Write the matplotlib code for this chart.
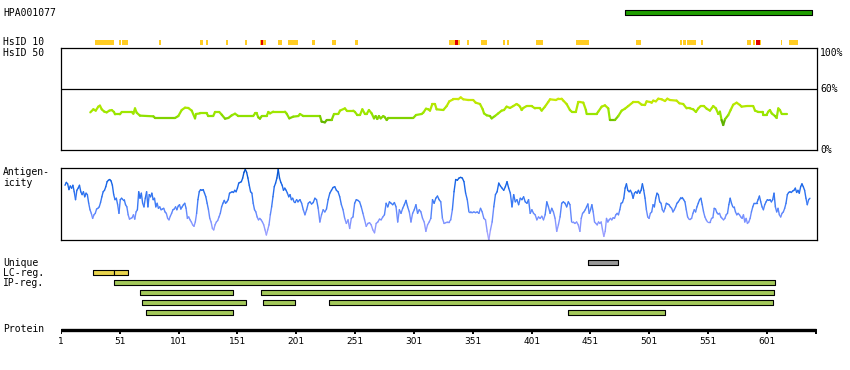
import numpy as np
import matplotlib
matplotlib.use("Agg")
import matplotlib.pyplot as plt
from matplotlib.collections import LineCollection
from matplotlib.colors import LinearSegmentedColormap, Normalize

# ---- data (residue positions / values) ----
protein_len = 643
antibody_name = "HPA001077"
antibody_span = (480, 639)

hsid10_yellow = [(30, 46), (50, 52), (53, 58), (84, 86), (119, 122), (124, 126), (141, 143),
                 (157, 159), (170, 175), (185, 189), (194, 202), (214, 217), (231, 235),
                 (251, 253), (331, 340), (346, 348), (358, 363), (377, 378), (380, 382),
                 (405, 411), (439, 450), (490, 494), (527, 529), (530, 532), (533, 541),
                 (545, 547), (584, 587), (589, 591), (594, 596), (613, 614), (620, 627)]
hsid10_red = [(171, 173), (336, 338), (591.5, 595)]

hsid50_res = [25.9, 28.5, 30.5, 32.7, 34.1, 35.6, 37.8, 39.8, 42.1, 44.1, 46.0, 46.9, 51.1, 52.6,
              61.1, 62.5, 63.9, 65.3, 68.1, 79.5, 80.9, 97.9, 100.7, 103.6, 106.4, 109.2, 112.1,
              114.9, 115.7, 119.1, 124.8, 126.2, 130.4, 131.9, 135.5, 137.6, 140.4, 143.2, 146.1,
              148.9, 151.7, 164.4, 165.9, 167.3, 168.7, 170.1, 171.6, 175.8, 177.2, 178.6, 181.4,
              191.4, 192.8, 195.0, 198.4, 202.7, 204.1,
              206.9, 221.1, 222.5, 225.3, 226.8, 231.0, 233.0, 236.7, 238.1, 242.3, 243.8, 249.4,
              250.8, 252.8, 255.1, 257.1, 259.3, 260.8, 262.7, 265.0, 267.0, 268.4, 269.8, 271.2,
              272.7, 274.9, 276.3, 277.8, 279.2, 300.4, 302.7, 307.5, 308.9, 311.2, 313.2, 314.6,
              316.6, 318.8, 320.2, 325.9, 328.8, 331.0, 334.4, 338.6, 340.7, 342.9, 347.1, 351.4,
              353.4, 357.1, 359.4, 360.5, 362.8, 365.6, 367.0, 369.8, 372.6, 375.5, 377.5, 379.7,
              382.6, 385.4, 388.2, 389.6, 391.1, 392.5, 393.9, 396.7, 401.0, 403.8, 408.1, 409.5,
              412.3, 415.1, 416.6, 421.7, 423.6, 426.5, 427.9, 430.7, 433.5, 435.0, 438.6, 440.6,
              442.0, 444.9, 447.1, 447.7, 456.2, 457.6, 460.5, 463.3, 466.1, 467.5, 471.8, 474.6,
              477.5, 480.3, 483.1, 487.4, 491.6, 494.5, 497.3, 498.7, 501.5, 503.0, 504.3, 506.6,
              508.6, 511.5, 514.3, 516.3, 518.5, 524.2, 526.5, 529.8, 532.7, 535.5, 538.3, 540.6,
              542.6, 544.6, 547.4, 549.7, 552.5, 555.3, 557.6, 559.6, 561.0, 562.4, 563.8, 565.3,
              568.1, 570.1, 572.3, 575.2, 578.0, 579.4, 583.7, 589.3, 590.8, 593.6, 597.3, 597.8,
              600.7, 602.1, 603.5, 605.0, 607.8, 609.2, 610.6, 612.0, 613.5, 617.7]
hsid50_pct = [36.9, 39.9, 38.6, 42.5, 43.5, 39.9, 37.6, 36.9, 38.6, 39.2, 37.3, 35.0, 35.0, 37.3,
              37.3, 35.6, 40.8, 36.6, 33.7, 33.0, 31.4, 31.4, 33.3, 39.2, 41.5, 41.2, 38.6,
              31.0, 35.3, 35.9, 35.9, 33.3, 33.3, 37.3, 37.3, 34.6, 30.7, 31.4, 34.0,
              35.6, 33.3, 33.3, 35.9, 35.9, 32.0, 30.7, 33.3, 33.3, 37.3, 35.9, 37.6,
              37.6, 35.6, 31.0, 32.7, 33.3, 35.3,
              33.3, 33.3, 27.8, 27.1, 29.4, 29.4, 35.3, 35.3, 38.6, 40.8, 38.6, 38.6,
              37.3, 34.3, 34.3, 39.9, 35.3, 35.3, 39.2, 35.9, 31.0, 33.3, 30.4, 33.3,
              31.0, 33.3, 32.0, 29.4, 31.4, 31.4, 34.3, 35.3, 36.6, 40.5, 39.9, 38.6,
              45.1, 45.1, 39.9, 39.2, 43.1, 47.7, 49.7, 49.7, 51.6, 49.7, 49.0, 49.0,
              46.4, 45.1, 39.9, 35.9, 34.0, 33.3, 31.0, 33.3, 35.9, 38.6, 39.2, 42.5,
              41.2, 43.1, 45.1, 44.1, 42.5, 39.2, 41.2, 43.1, 43.1, 40.8, 40.8, 38.6,
              42.5, 47.1, 49.7, 49.0, 50.3, 50.3, 48.4, 45.1, 39.2, 37.6, 37.6, 47.1,
              47.1, 46.4, 39.2, 35.3, 35.3, 37.6, 42.5, 43.8, 40.8, 29.4, 29.4, 33.3,
              38.6, 40.5, 43.1, 47.1, 47.1, 44.4, 44.1, 47.7, 47.1, 46.4, 48.4, 47.7,
              50.3, 49.7, 48.0, 50.3, 49.0, 48.4, 45.8, 45.1, 40.8, 40.8, 39.9, 37.3,
              40.8, 43.1, 43.1, 40.5, 38.6, 43.1, 40.8, 35.3, 37.6, 29.4, 24.5, 30.1,
              34.3, 39.2, 44.4, 46.4, 44.1, 42.5, 43.1, 43.1, 38.6, 37.3, 37.3, 34.6,
              34.6, 37.6, 39.2, 35.9, 33.3, 31.4, 40.8, 39.2, 35.3, 35.3]

# antigenicity score (0-100 scale), three stretches read at roughly even steps
ag_seg1_span = (4.4, 203.5)
ag_seg1 = [76, 80, 78, 70, 75, 72, 76, 67, 56, 69, 72, 76, 67, 63, 67, 60, 65, 63, 51, 42, 37, 30, 35,
           37, 43, 44, 46, 52, 60, 67, 69, 74, 81, 83, 84, 82, 76, 63, 56, 58, 49, 37, 56, 58, 56, 56,
           49, 46, 35, 29, 30, 31, 35, 29, 39, 42, 67, 58, 65, 51, 46, 58, 67, 46, 63, 60, 65, 56, 58,
           46, 51, 44, 46, 42, 43, 44, 39, 37, 30, 28, 33, 37, 42, 43, 46, 42, 47, 49, 43, 46, 49, 51,
           44, 30, 32, 28, 25, 21, 19, 25, 37, 56, 67, 70, 69, 70, 65, 60, 51, 42, 30, 25, 16, 14, 21,
           25, 27, 32, 37, 46, 51, 55, 51, 53, 56, 65, 66, 67, 66, 69, 67, 72, 79, 80, 81, 86, 94, 98,
           94, 86, 76, 67, 65, 51, 42, 39, 32, 28, 30, 28, 25, 21, 14, 7, 14, 21, 35, 46, 60, 74, 79,
           86, 98, 86, 80, 76, 69, 72, 69, 65, 60, 63, 56, 58, 53, 53, 56, 53, 55]
ag_seg2_span = (204.1, 440.6)
ag_seg2 = [56, 51, 42, 35, 42, 51, 53, 50, 52, 58, 56, 44, 25, 35, 42, 39, 43, 56, 65, 69, 73, 74, 69,
           67, 60, 49, 42, 30, 23, 28, 16, 30, 32, 51, 56, 55, 53, 46, 37, 28, 19, 23, 24, 21, 14, 10,
           23, 25, 29, 28, 32, 35, 51, 46, 53, 51, 49, 52, 46, 25, 42, 37, 44, 49, 55, 46, 39, 25, 37,
           42, 49, 37, 42, 39, 30, 25, 12, 21, 25, 30, 56, 51, 58, 61, 56, 53, 30, 23, 24, 25, 25, 28,
           42, 67, 84, 83, 86, 87, 86, 81, 65, 56, 39, 39, 38, 39, 38, 39, 37, 44, 39, 30, 28, 12, 0,
           14, 25, 46, 63, 67, 79, 75, 72, 69, 74, 81, 72, 65, 46, 63, 53, 56, 49, 58, 56, 60, 53, 51,
           56, 37, 42, 37, 35, 28, 32, 30, 33, 28, 35, 53, 46, 37, 44, 39, 30, 12, 21, 32, 51, 53, 51,
           46, 53, 49, 25, 25, 23, 25, 21]
ag_seg3_span = (442.0, 637.5)
ag_seg3 = [12, 30, 37, 39, 42, 46, 50, 37, 42, 49, 39, 25, 23, 21, 25, 23, 25, 14, 5, 12, 30, 25, 28,
           30, 28, 31, 30, 35, 37, 35, 42, 51, 52, 58, 72, 78, 69, 67, 69, 65, 58, 65, 67, 65, 69, 65,
           69, 78, 69, 58, 42, 32, 30, 37, 39, 49, 46, 58, 65, 63, 53, 51, 42, 39, 44, 51, 50, 49, 46,
           44, 39, 42, 46, 51, 53, 56, 59, 59, 56, 53, 42, 32, 29, 29, 30, 37, 42, 39, 46, 51, 56, 58,
           49, 39, 32, 28, 25, 25, 25, 30, 31, 44, 43, 38, 36, 37, 32, 30, 28, 30, 35, 37, 49, 58, 51,
           46, 46, 39, 35, 37, 35, 32, 30, 35, 25, 30, 23, 25, 30, 39, 46, 51, 51, 51, 56, 61, 53, 46,
           42, 49, 53, 56, 55, 56, 53, 56, 65, 46, 39, 44, 35, 32, 37, 39, 44, 51, 63, 66, 67, 66, 68,
           69, 72, 66, 69, 65, 74, 78, 74, 69, 58, 49, 56, 58]

unique_regions = [(449, 474)]
lc_regions = [(28, 46), (46, 58)]
ip_rows = [[(46, 608)],
           [(68, 147), (171, 607)],
           [(70, 158), (173, 200), (229, 606)],
           [(73, 147), (432, 514)]]

protein_ticks = [1, 51, 101, 151, 201, 251, 301, 351, 401, 451, 501, 551, 601]

# ---- figure ----
W, H = 850, 370
fig = plt.figure(figsize=(W / 100, H / 100), dpi=100)
mono = "DejaVu Sans Mono"
x0, x1 = 61, 817
xlim = (1, protein_len + 0.5)


def box(top, bottom):
    return [x0 / W, (H - bottom) / H, (x1 - x0) / W, (bottom - top) / H]


def coloured_line(ax, x, y, cmap, norm, lw):
    pts = np.column_stack([x, y]).astype(float)
    segs = np.stack([pts[:-1], pts[1:]], axis=1)
    lc = LineCollection(segs, cmap=cmap, norm=norm, linewidths=lw, capstyle="round")
    lc.set_array((pts[:-1, 1] + pts[1:, 1]) / 2)
    ax.add_collection(lc)


# track axes: whole height, y in pixel rows
tr = fig.add_axes([x0 / W, 0, (x1 - x0) / W, 1])
tr.set_xlim(*xlim)
tr.set_ylim(H, 0)
tr.axis("off")


def bars(spans, yc, h, color, edge=True):
    tr.broken_barh([(a, b - a) for a, b in spans], (yc - h / 2, h), facecolors=color,
                   edgecolors="black" if edge else "none", linewidth=0.8 if edge else 0)


bars([antibody_span], 12.3, 4.6, "#1f9e00")
bars(hsid10_yellow, 42.5, 5, "#ffcc22", edge=False)
bars(hsid10_red, 42.5, 5, "#e00000", edge=False)
bars(unique_regions, 262.5, 4.4, "#999999")
bars(lc_regions, 272.5, 4.4, "#e8d44d")
for i, row in enumerate(ip_rows):
    bars(row, 282.5 + 10 * i, 4.4, "#a3c85a")

# protein axis
tr.plot([1, protein_len], [329.6, 329.6], color="black", lw=2.4, solid_capstyle="butt")
for t in protein_ticks + [protein_len]:
    tr.plot([t, t], [329, 334], color="black", lw=1.4, solid_capstyle="butt")
for t in protein_ticks:
    tr.text(t, 341.5, str(t), ha="center", va="center", fontsize=6.5)

# HsID 50 panel
ah = fig.add_axes(box(48, 150))
ah.set_xlim(*xlim)
ah.set_ylim(0, 100)
ah.set_xticks([])
ah.set_yticks([])
for s in ah.spines.values():
    s.set_linewidth(0.9)
ah.axhline(60, color="black", lw=0.9)
hcmap = LinearSegmentedColormap.from_list(
    "hs", [(0, "#3d8a00"), (0.2, "#5fb000"), (0.4, "#94e600"), (0.75, "#bde800"), (1, "#d6ea10")])
coloured_line(ah, hsid50_res, hsid50_pct, hcmap, Normalize(20, 55), 1.6)
for y, lab, va in [(100, "100%", "top"), (60, "60%", "center"), (0, "0%", "center")]:
    ah.text(1.004, y / 100, lab, transform=ah.transAxes, ha="left", va=va,
            family=mono, fontsize=7, clip_on=False)

# antigenicity panel
aa = fig.add_axes(box(168, 240))
aa.set_xlim(*xlim)
aa.set_ylim(0, 100)
aa.set_xticks([])
aa.set_yticks([])
for s in aa.spines.values():
    s.set_linewidth(0.9)
acmap = LinearSegmentedColormap.from_list(
    "ag", [(0, "#aaa6ff"), (0.3, "#7790ff"), (0.5, "#3f7cf6"), (0.8, "#1463e6"), (1, "#0050c8")])
ag_res = np.concatenate([np.linspace(*ag_seg1_span, len(ag_seg1)),
                         np.linspace(*ag_seg2_span, len(ag_seg2)),
                         np.linspace(*ag_seg3_span, len(ag_seg3))])
ag_val = ag_seg1 + ag_seg2 + ag_seg3
coloured_line(aa, ag_res, ag_val, acmap, Normalize(0, 100), 1.0)

# left labels
labels = [(13, antibody_name), (42, "HsID 10"), (52.5, "HsID 50"), (172, "Antigen-"),
          (183, "icity"), (263, "Unique"), (273, "LC-reg."), (283, "IP-reg."), (329.5, "Protein")]
for y, s in labels:
    fig.text(3 / W, 1 - y / H, s, ha="left", va="center", family=mono, fontsize=7)

fig.savefig("out.png", dpi=100)
